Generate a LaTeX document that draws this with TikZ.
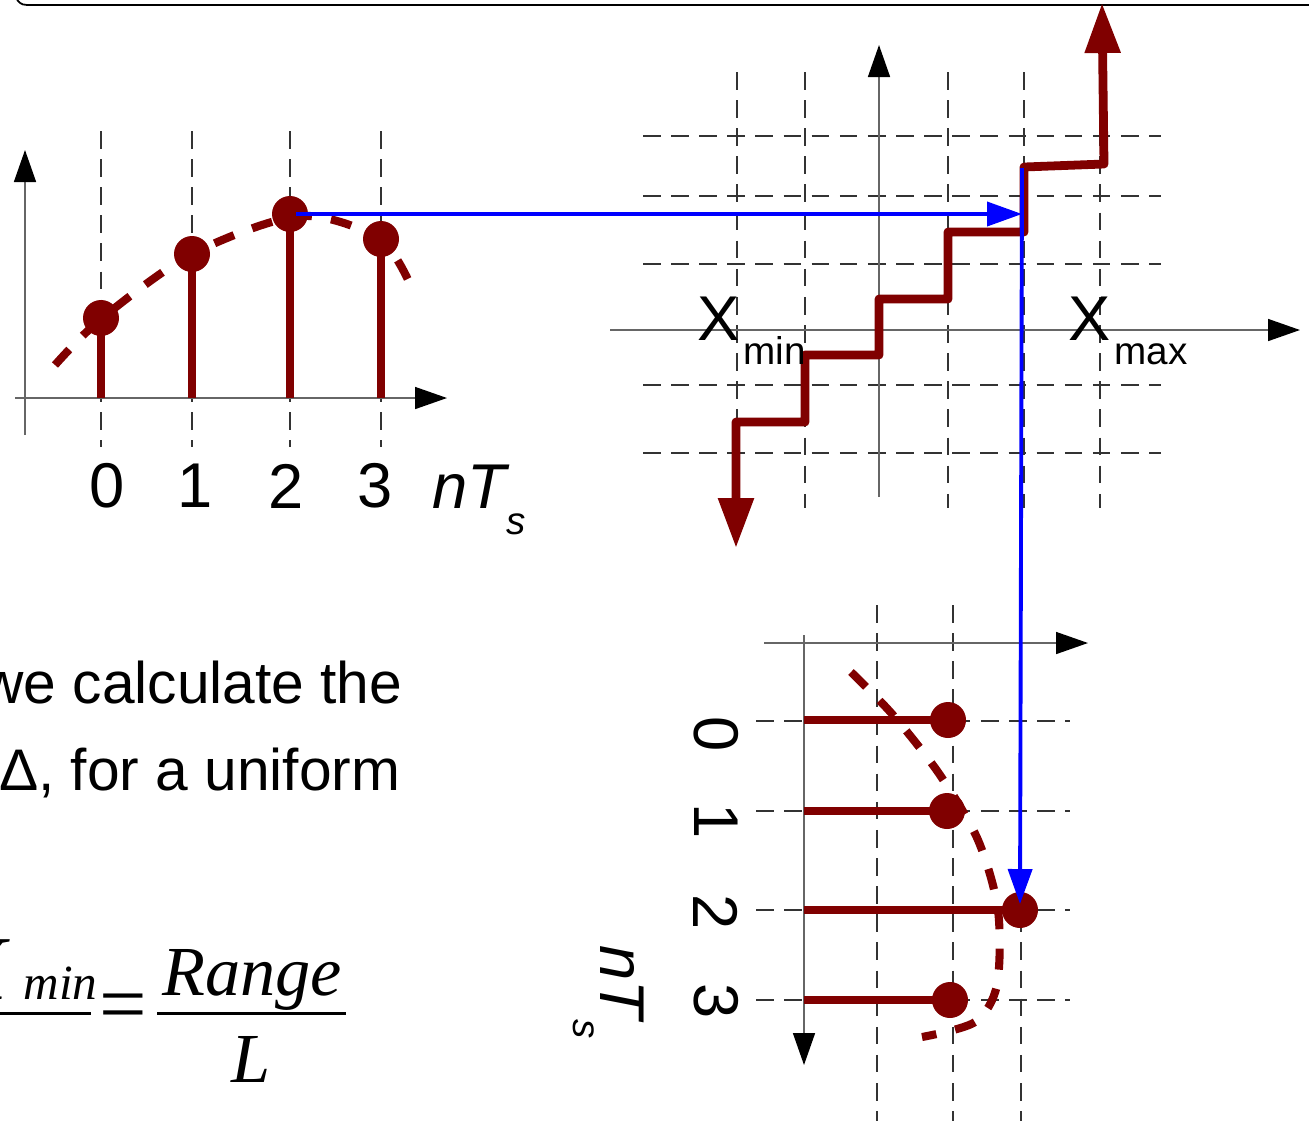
\documentclass[tikz,border=0pt]{standalone}
\usepackage{fontspec}
\setmainfont{Liberation Sans}
\newfontfamily\formfont{Liberation Serif}
\usetikzlibrary{arrows.meta}
\begin{document}
\begin{tikzpicture}[x=0.1mm,y=-0.1mm,
  axis/.style={color3,line width=0.45pt},
  axtip/.style={-{Triangle[length=3.2mm,width=2.2mm,color=black]}},
  gridline/.style={color4,line width=0.4pt,dash pattern=on 5pt off 3pt},
  stem/.style={color0,line width=2.3pt},
  dot/.style={circle,fill=color0,inner sep=0pt,minimum size=3.6mm},
  curve/.style={color0,line width=2.3pt,dash pattern=on 6pt off 5.5pt},
  stair/.style={color0,line width=2.5pt,line join=round,{Triangle[length=5mm,width=3.4mm]}-{Triangle[length=5mm,width=3.4mm]}},
  flow/.style={color1,line width=1.1pt,-{Triangle[length=3.5mm,width=2.4mm]}},
  lbl/.style={inner sep=0pt,font=\fontsize{18}{20}\selectfont},
  txt/.style={inner sep=0pt,font=\fontsize{16.7}{20}\selectfont},
  frm/.style={inner sep=0pt,font=\formfont\itshape\fontsize{20}{22}\selectfont}]
\definecolor{color0}{HTML}{800000}
\definecolor{color1}{HTML}{0000FF}
\definecolor{color3}{HTML}{666666}
\definecolor{color4}{HTML}{333333}
\useasboundingbox (0,0) rectangle (1309,1121);
\clip (0,0) rectangle (1309,1121);

% slide frame
\draw[black,line width=0.5pt] (17,0) .. controls (22,5) .. (33,5) -- (1309,5);

% sampled signal
\foreach \x in {101,192,290,381} \draw[gridline] (\x,131) -- (\x,447);
\draw[axis,axtip] (15,398) -- (447,398);
\draw[axis,axtip] (25,435) -- (25,150);
\coordinate (base) at (0,398);
\draw[curve] plot[smooth] coordinates {(55,365) (101,319) (192,254) (300,216) (381,240) (415,295)};
\node[dot] (s0) at (101,318) {};
\node[dot] (s1) at (192,254) {};
\node[dot] (s2) at (290,214) {};
\node[dot] (s3) at (381,239) {};
\foreach \n in {0,...,3} \draw[stem] (s\n.center) -- (s\n.center |- base);
\node[lbl] (n0) at (107,486) {0};
\node[lbl] (n1) at (195,486) {1};
\node[lbl] (n2) at (286,486) {2};
\node[lbl] (n3) at (375,486) {3};
\node[lbl,anchor=base west] (nts) at (432,508) {\itshape nT\raisebox{-7.5pt}{\fontsize{11}{11}\selectfont s}};

% quantizer
\foreach \x in {737,805,948,1024,1100} \draw[gridline] (\x,72) -- (\x,508);
\foreach \y in {136,196,264,385,453} \draw[gridline] (643,\y) -- (1161,\y);
\draw[axis,axtip] (610,330) -- (1300,330);
\draw[axis,axtip] (879,497) -- (879,45);
\draw[stair] (736,548) -- (736,422) -- (805,422) -- (805,355) -- (879,355) -- (879,299)
  -- (948,299) -- (948,232) -- (1024,232) -- (1024,167) -- (1104,164) -- (1102,3);
\node[lbl,anchor=base west] (xmin) at (697,340) {X\kern1pt\raisebox{-7pt}{\fontsize{11}{11}\selectfont min}};
\node[lbl,anchor=base west] (xmax) at (1068,340) {X\kern1pt\raisebox{-7pt}{\fontsize{11}{11}\selectfont max}};

% quantized samples
\foreach \x in {877,953,1021} \draw[gridline] (\x,605) -- (\x,1121);
\foreach \y in {721,811,910,1000} \draw[gridline] (756,\y) -- (1070,\y);
\draw[axis,axtip] (764,643) -- (1088,643);
\draw[axis,axtip] (804,635) -- (804,1065);
\coordinate (top) at (804,0);
\draw[curve] plot[smooth] coordinates {(851,672) (893,715) (940,775) (978,840) (998,910) (997,985) (975,1022) (922,1037)};
\node[dot] (q0) at (948,720) {};
\node[dot] (q1) at (947,811) {};
\node[dot] (q2) at (1020,910) {};
\node[dot] (q3) at (950,1000) {};
\foreach \n in {0,...,3} \draw[stem] (q\n.center) -- (q\n.center -| top);
\node[lbl,rotate=-90] (m0) at (716,734) {0};
\node[lbl,rotate=-90] (m1) at (716,821) {1};
\node[lbl,rotate=-90] (m2) at (716,912) {2};
\node[lbl,rotate=-90] (m3) at (716,1001) {3};
\node[lbl,rotate=-90,anchor=base west] (mts) at (600,945) {\itshape nT\raisebox{-7.5pt}{\fontsize{11}{11}\selectfont s}};

% mapping
\coordinate (hit) at (1022,216);
\coordinate (riser) at (1022,168);
\draw[flow,shorten <=0.6mm] (s2.center) -- (s2.center -| hit);
\draw[flow,shorten >=0.6mm] (riser) -- (q2.center);

% text
\node[txt,anchor=base east] (t1) at (403,703) {we calculate the};
\node[txt,anchor=base east] (t2) at (401,790) {Δ, for a uniform};

% formula
\node[frm,anchor=base east,font=\formfont\itshape\fontsize{26}{28}\selectfont] (fx) at (8,999) {X};
\node[frm,anchor=base west,font=\formfont\itshape\fontsize{14}{16}\selectfont] (fmin) at (23,999) {min};
\draw[line width=0.85pt] (0,1013) -- (91,1013);
\node[frm,font=\formfont\fontsize{24}{26}\selectfont] (feq) at (123,1013) {=};
\node[frm,anchor=base] (frg) at (252,995) {Range};
\node[frm,anchor=base] (fl) at (251,1082) {L};
\draw[line width=0.85pt] (157,1013) -- (346,1013);
\end{tikzpicture}
\end{document}
